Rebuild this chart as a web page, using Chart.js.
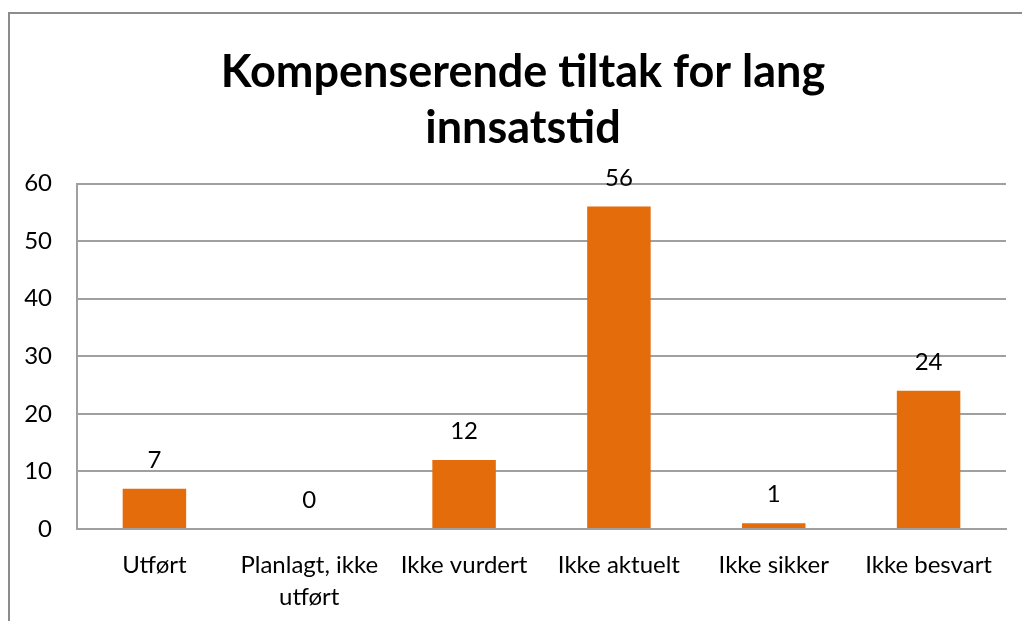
<!DOCTYPE html>
<html>
<head>
<meta charset="utf-8">
<script src="https://cdn.jsdelivr.net/npm/chart.js@4/dist/chart.umd.min.js"></script>
<style>
  html, body { margin: 0; padding: 0; background: #fff; overflow: hidden; }
  body { width: 1022px; height: 621px; position: relative; }
  #frame {
    position: absolute; left: 8px; top: 12px; width: 1030px; height: 620px;
    border-left: 2px solid #8c8c8c; border-top: 2px solid #8c8c8c;
  }
</style>
</head>
<body>
<div id="frame"><canvas id="chart" width="1030" height="620"></canvas></div>
<script>
const categories = ['Utført', ['Planlagt, ikke', 'utført'], 'Ikke vurdert', 'Ikke aktuelt', 'Ikke sikker', 'Ikke besvart'];
const values = [7, 0, 12, 56, 1, 24];
const yTicks = [0, 10, 20, 30, 40, 50, 60];
const titleLines = ['Kompenserende tiltak for lang', 'innsatstid'];

const fontFamily = 'Lato, "Open Sans", sans-serif';

// draw the value above each bar
const valueLabels = {
    id: 'valueLabels',
    afterDatasetsDraw(chart) {
        const ctx = chart.ctx;
        const meta = chart.getDatasetMeta(0);
        ctx.save();
        ctx.font = '24px ' + fontFamily;
        ctx.fillStyle = '#000';
        ctx.textAlign = 'center';
        ctx.textBaseline = 'alphabetic';
        meta.data.forEach((bar, i) => {
            ctx.fillText(String(values[i]), bar.x, bar.y - 21);
        });
        ctx.restore();
    }
};

// title is centred on the whole frame, not only the plot side
const titleShift = {
    id: 'titleShift',
    afterLayout(chart) {
        if (chart.titleBlock) chart.titleBlock.left += 30;
    }
};

new Chart(document.getElementById('chart').getContext('2d'), {
    type: 'bar',
    data: {
        labels: categories,
        datasets: [{
            data: values,
            backgroundColor: '#E46C0A',
            borderWidth: 0,
            categoryPercentage: 1,
            barPercentage: 0.41,
        }]
    },
    options: {
        responsive: false,
        animation: false,
        layout: {
            padding: { left: 0, right: 34, top: 0, bottom: 0 }
        },
        plugins: {
            legend: { display: false },
            tooltip: { enabled: false },
            title: {
                display: true,
                text: titleLines,
                color: '#000',
                font: { family: fontFamily, size: 45, weight: 'bold', lineHeight: 1.25 },
                padding: { top: 30, bottom: 27 },
            },
        },
        scales: {
            x: {
                grid: { display: false, drawTicks: false },
                border: { display: true, color: '#a0a0a0', width: 2 },
                afterFit(scale) { scale.height = 105; },
                ticks: {
                    color: '#000',
                    font: { family: fontFamily, size: 24, lineHeight: 1.33 },
                    padding: 20,
                    maxRotation: 0,
                    autoSkip: false,
                }
            },
            y: {
                min: 0,
                max: 60,
                afterBuildTicks(scale) {
                    scale.ticks = yTicks.map(v => ({ value: v }));
                },
                afterFit(scale) { scale.width = 67; },
                grid: { color: '#a0a0a0', lineWidth: 2, drawTicks: false },
                border: { display: true, color: '#a0a0a0', width: 2 },
                ticks: {
                    color: '#000',
                    font: { family: fontFamily, size: 24 },
                    padding: 25,
                }
            }
        }
    },
    plugins: [valueLabels, titleShift]
});
</script>
</body>
</html>
